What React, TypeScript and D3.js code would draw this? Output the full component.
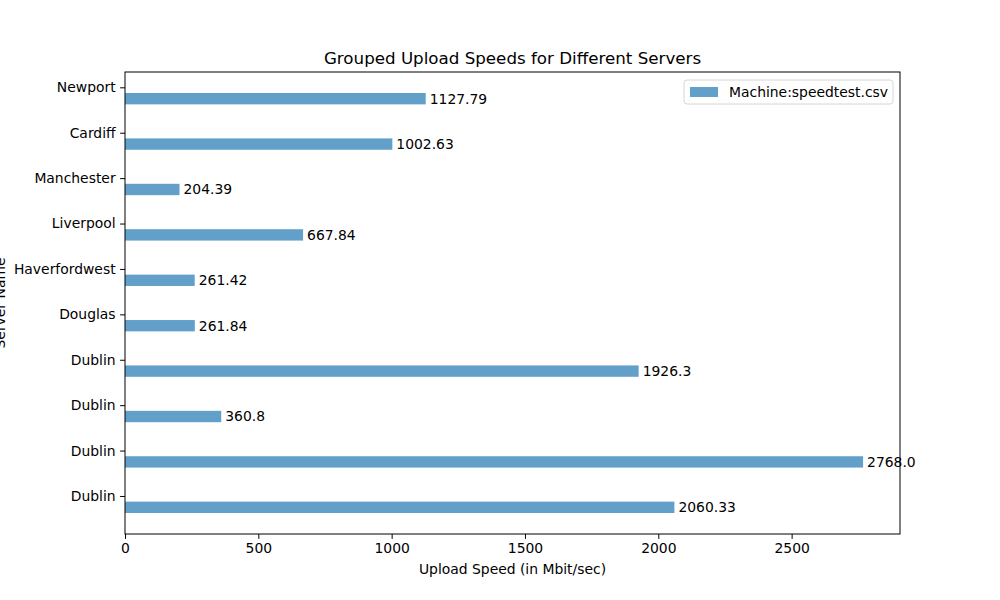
import { useEffect, useRef } from "react";
import * as d3 from "d3";

// servers listed bottom to top, as on the y axis
const serverNames = ["Dublin", "Dublin", "Dublin", "Dublin", "Douglas", "Haverfordwest", "Liverpool", "Manchester", "Cardiff", "Newport"];
const uploadSpeeds = [2060.33, 2768.0, 360.8, 1926.3, 261.84, 261.42, 667.84, 204.39, 1002.63, 1127.79];
const speedLabels = ["2060.33", "2768.0", "360.8", "1926.3", "261.84", "261.42", "667.84", "204.39", "1002.63", "1127.79"];
const xTicks = [0, 500, 1000, 1500, 2000, 2500];
const legendLabel = "Machine:speedtest.csv";

const barHeight = 0.25;
const barOffset = -0.25;

export default function App() {
  const ref = useRef<SVGSVGElement>(null);

  useEffect(() => {
    const width = 1000;
    const height = 600;
    const margin = { top: 72, right: 100, bottom: 66, left: 125 };
    const font = "DejaVu Sans, sans-serif";
    const fs = 13.9;

    const svg = d3.select(ref.current);
    svg.selectAll("*").remove();
    svg.append("rect").attr("width", width).attr("height", height).attr("fill", "white");

    const xMax = d3.max(uploadSpeeds)! * 1.05;
    const xScale = d3.scaleLinear()
      .domain([0, xMax])
      .range([margin.left, width - margin.right]);

    // matplotlib style 5% padding around the bars
    const lo = barOffset - barHeight / 2;
    const hi = serverNames.length - 1 + barOffset + barHeight / 2;
    const pad = (hi - lo) * 0.05;
    const yScale = d3.scaleLinear()
      .domain([lo - pad, hi + pad])
      .range([height - margin.bottom, margin.top]);

    const bandPx = Math.abs(yScale(barHeight) - yScale(0));

    const bars = svg.append("g");
    bars.selectAll("rect")
      .data(uploadSpeeds)
      .join("rect")
      .attr("x", xScale(0))
      .attr("y", (d, i) => yScale(i + barOffset + barHeight / 2))
      .attr("width", d => xScale(d) - xScale(0))
      .attr("height", bandPx)
      .attr("fill", "#1f77b4")
      .attr("fill-opacity", 0.7);

    bars.selectAll("text")
      .data(uploadSpeeds)
      .join("text")
      .attr("x", d => xScale(d) + 4)
      .attr("y", (d, i) => yScale(i + barOffset))
      .attr("dy", "0.35em")
      .attr("font-family", font)
      .attr("font-size", fs)
      .attr("fill", "black")
      .text((d, i) => speedLabels[i]);

    // axes
    const xAxis = svg.append("g")
      .attr("transform", `translate(0,${height - margin.bottom})`)
      .call(d3.axisBottom(xScale).tickValues(xTicks).tickSize(4.9).tickPadding(4).tickFormat(d3.format("d")));
    xAxis.select(".domain").remove();
    xAxis.selectAll("text").attr("font-family", font).attr("font-size", fs).attr("fill", "black");

    const yAxis = svg.append("g")
      .attr("transform", `translate(${margin.left},0)`)
      .call(d3.axisLeft(yScale).tickValues(d3.range(serverNames.length)).tickSize(4.9).tickPadding(4.5)
        .tickFormat((d) => serverNames[d as number]));
    yAxis.select(".domain").remove();
    yAxis.selectAll("text").attr("font-family", font).attr("font-size", fs).attr("fill", "black");

    // frame
    svg.append("rect")
      .attr("x", margin.left)
      .attr("y", margin.top)
      .attr("width", width - margin.right - margin.left)
      .attr("height", height - margin.bottom - margin.top)
      .attr("fill", "none")
      .attr("stroke", "black")
      .attr("stroke-width", 1);

    svg.append("text")
      .attr("x", (margin.left + width - margin.right) / 2)
      .attr("y", 64)
      .attr("text-anchor", "middle")
      .attr("font-family", font)
      .attr("font-size", 16.7)
      .text("Grouped Upload Speeds for Different Servers");

    svg.append("text")
      .attr("x", (margin.left + width - margin.right) / 2)
      .attr("y", 574)
      .attr("text-anchor", "middle")
      .attr("font-family", font)
      .attr("font-size", fs)
      .text("Upload Speed (in Mbit/sec)");

    // y label sits partly off the left edge, as in the source figure
    svg.append("text")
      .attr("transform", `translate(5,${(margin.top + height - margin.bottom) / 2}) rotate(-90)`)
      .attr("text-anchor", "middle")
      .attr("font-family", font)
      .attr("font-size", fs)
      .text("Server Name");

    // legend
    const legend = svg.append("g").attr("transform", "translate(684,80)");
    legend.append("rect")
      .attr("width", 209).attr("height", 24).attr("rx", 3)
      .attr("fill", "white").attr("stroke", "#d6d6d6");
    legend.append("rect")
      .attr("x", 6).attr("y", 7).attr("width", 28).attr("height", 10)
      .attr("fill", "#1f77b4").attr("fill-opacity", 0.7);
    legend.append("text")
      .attr("x", 45).attr("y", 12).attr("dy", "0.35em")
      .attr("font-family", font).attr("font-size", fs)
      .text(legendLabel);
  }, []);

  return (
    <div style={{ position: "absolute", left: 0, top: 0 }}>
      <svg ref={ref} width={1000} height={600} style={{ display: "block" }} />
    </div>
  );
}
